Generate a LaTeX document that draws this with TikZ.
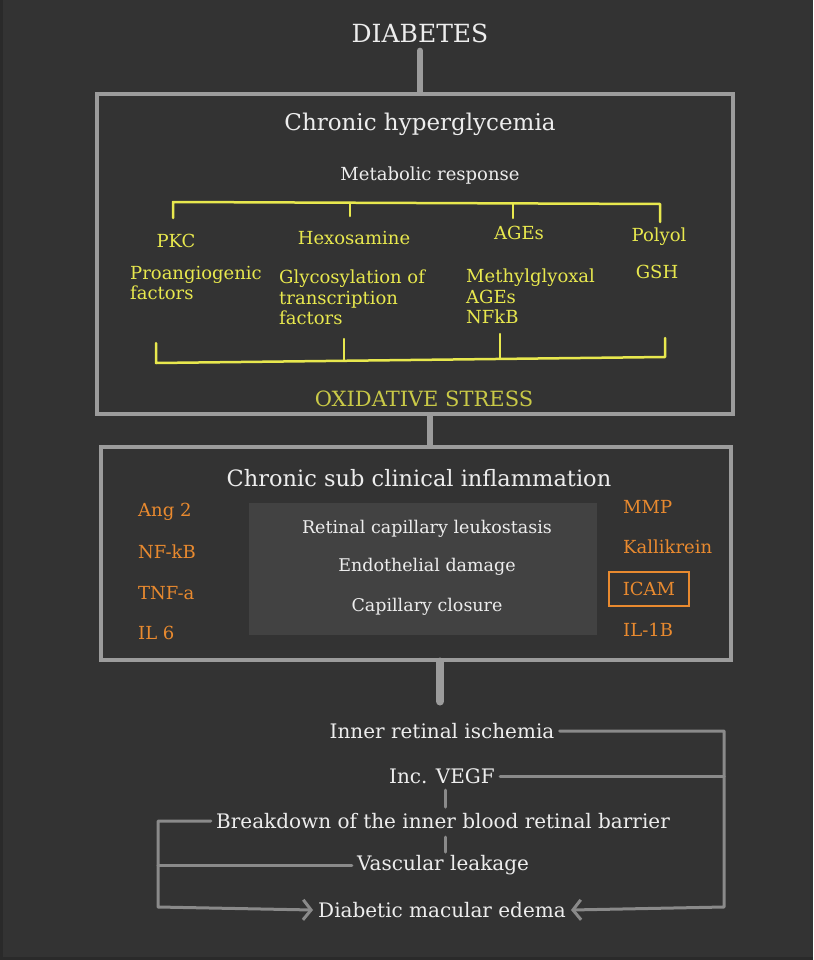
\documentclass[tikz,border=0pt]{standalone}
\usepackage{fontspec}
\setmainfont{DejaVu Serif}
\usetikzlibrary{arrows.meta}

\definecolor{bg}{HTML}{333333}
\definecolor{edgebg}{HTML}{2A2A2A}
\definecolor{boxgray}{HTML}{9C9C9C}
\definecolor{flowgray}{HTML}{8A8A8A}
\definecolor{txt}{HTML}{EDEDED}
\definecolor{yel}{HTML}{E8E84E}
\definecolor{oxicol}{HTML}{C9C947}
\definecolor{orng}{HTML}{E98A2F}
\definecolor{panelgray}{HTML}{424242}
\newcommand{\fsz}[2]{\fontsize{#1}{#2}\selectfont}

\begin{document}
\begin{tikzpicture}[x=1pt, y=-1pt,
    wtxt/.style={text=txt, inner sep=2pt},
    ytxt/.style={text=yel, font=\fsz{18}{20.5}, inner sep=0pt},
    otxt/.style={text=orng, font=\fsz{18}{21}, inner sep=0pt, anchor=west},
    flowtxt/.style={text=txt, font=\fsz{20}{24}, inner sep=5pt},
    bigbox/.style={draw=boxgray, line width=4pt},
    bar/.style={draw=boxgray, line width=6pt, line cap=round},
    ybrk/.style={draw=yel, line width=2.5pt, line cap=round, line join=round},
    flow/.style={draw=flowgray, line width=3pt, line cap=round, line join=round}]
  % page
  \fill[bg] (0,0) rectangle (813,960);
  \fill[edgebg] (0,0) rectangle (3,960);
  \fill[edgebg] (0,957) rectangle (813,960);

  \node[wtxt, font=\fsz{25}{30}] (diab) at (420,33) {DIABETES};

  % chronic hyperglycemia box
  \node[bigbox, minimum width=636pt, minimum height=320pt] (hyper) at (415,254) {};
  \node[wtxt, font=\fsz{23}{27}] (hypertitle) at (420,124) {Chronic hyperglycemia};
  \node[wtxt, font=\fsz{18}{21}] (metab) at (430,176) {Metabolic response};
  \node[ytxt] (pkc) at (176,241) {PKC};
  \node[ytxt] (hexo) at (354,238) {Hexosamine};
  \node[ytxt] (ages) at (519,233) {AGEs};
  \node[ytxt] (polyol) at (659,237) {Polyol};
  \node[ytxt, anchor=north west, align=left] (proang) at (130,266) {Proangiogenic\\factors};
  \node[ytxt, anchor=north west, align=left] (glyco) at (279,270) {Glycosylation of\\transcription\\factors};
  \node[ytxt, anchor=north west, align=left] (methyl) at (466,269) {Methylglyoxal\\AGEs\\NFkB};
  \node[ytxt] (gsh) at (657,272) {GSH};
  \node[text=oxicol, font=\fsz{21}{25}] (oxi) at (424,399) {OXIDATIVE STRESS};

  % yellow brackets
  \coordinate (tl) at (173,202);
  \coordinate (tr) at (660,204);
  \draw[ybrk] (173,218) -- (tl) -- (tr) -- (660,222);
  \draw[ybrk] (350,203) -- (350,216);
  \draw[ybrk] (513,203) -- (513,218);
  \coordinate (bl) at (156,363);
  \coordinate (br) at (665,357);
  \draw[ybrk] (156,343) -- (bl) -- (br) -- (665,338);
  \draw[ybrk] (344,339) -- (344,360);
  \draw[ybrk] (500,334) -- (500,358);

  % inflammation box
  \node[bigbox, minimum width=630pt, minimum height=213pt] (inflam) at (416,553) {};
  \node[wtxt, font=\fsz{22.5}{27}] (inflamtitle) at (419,478) {Chronic sub clinical inflammation};
  \node[fill=panelgray, minimum width=348pt, minimum height=132pt] (panel) at (423,569) {};
  \node[wtxt, font=\fsz{17.5}{21}] (leuko) at (427,529) {Retinal capillary leukostasis};
  \node[wtxt, font=\fsz{17.5}{21}] (endo) at (427,567) {Endothelial damage};
  \node[wtxt, font=\fsz{17.5}{21}] (closure) at (427,607) {Capillary closure};
  \foreach \nm/\t/\y in {ang/Ang 2/512, nfkb/NF-kB/552, tnf/TNF-a/593, il6/IL 6/633}
    \node[otxt] (\nm) at (138,\y) {\t};
  \foreach \nm/\t/\y in {mmp/MMP/507, kalli/Kallikrein/547, il1b/IL-1B/630}
    \node[otxt] (\nm) at (623,\y) {\t};
  \node[text=orng, font=\fsz{18}{21}, draw=orng, line width=1.2pt,
        minimum width=80pt, minimum height=34pt] (icam) at (649,589) {ICAM};

  \draw[bar] (diab.south) ++(0,-6pt) -- (diab.south |- hyper.north);
  \draw[bar] ([xshift=6pt]oxi.south |- hyper.south) -- ([xshift=6pt]oxi.south |- inflam.north);

  % bottom flow
  \node[flowtxt] (isch) at (442,731) {Inner retinal ischemia};
  \node[flowtxt] (vegf) at (442,776) {Inc. VEGF};
  \node[flowtxt] (brk) at (443,821) {Breakdown of the inner blood retinal barrier};
  \node[flowtxt] (vasc) at (443,865) {Vascular leakage};
  \node[flowtxt] (dme) at (442,910) {Diabetic macular edema};

  \draw[bar, line width=8pt] ([xshift=-2pt]inflam.south -| isch) -- ++(0,40);

  \coordinate (rt) at (724,731);
  \coordinate (rb) at (724,907);
  \coordinate (lt) at (158,821);
  \coordinate (lb) at (158,907);
  \draw[flow, -{Straight Barb[length=8pt, width=20pt]}] (isch.east) -- (rt) -- (rb) -- (dme.east);
  \draw[flow] (vegf.east) -- (vegf.east -| rt);
  \draw[flow, -{Straight Barb[length=8pt, width=20pt]}] (brk.west) -- (lt) -- (lb) -- (dme.west);
  \draw[flow] (vasc.west) -- (vasc.west -| lt);
  \draw[flow] (445,790) -- (445,807);
  \draw[flow] (445,837) -- (445,852);
\end{tikzpicture}
\end{document}
